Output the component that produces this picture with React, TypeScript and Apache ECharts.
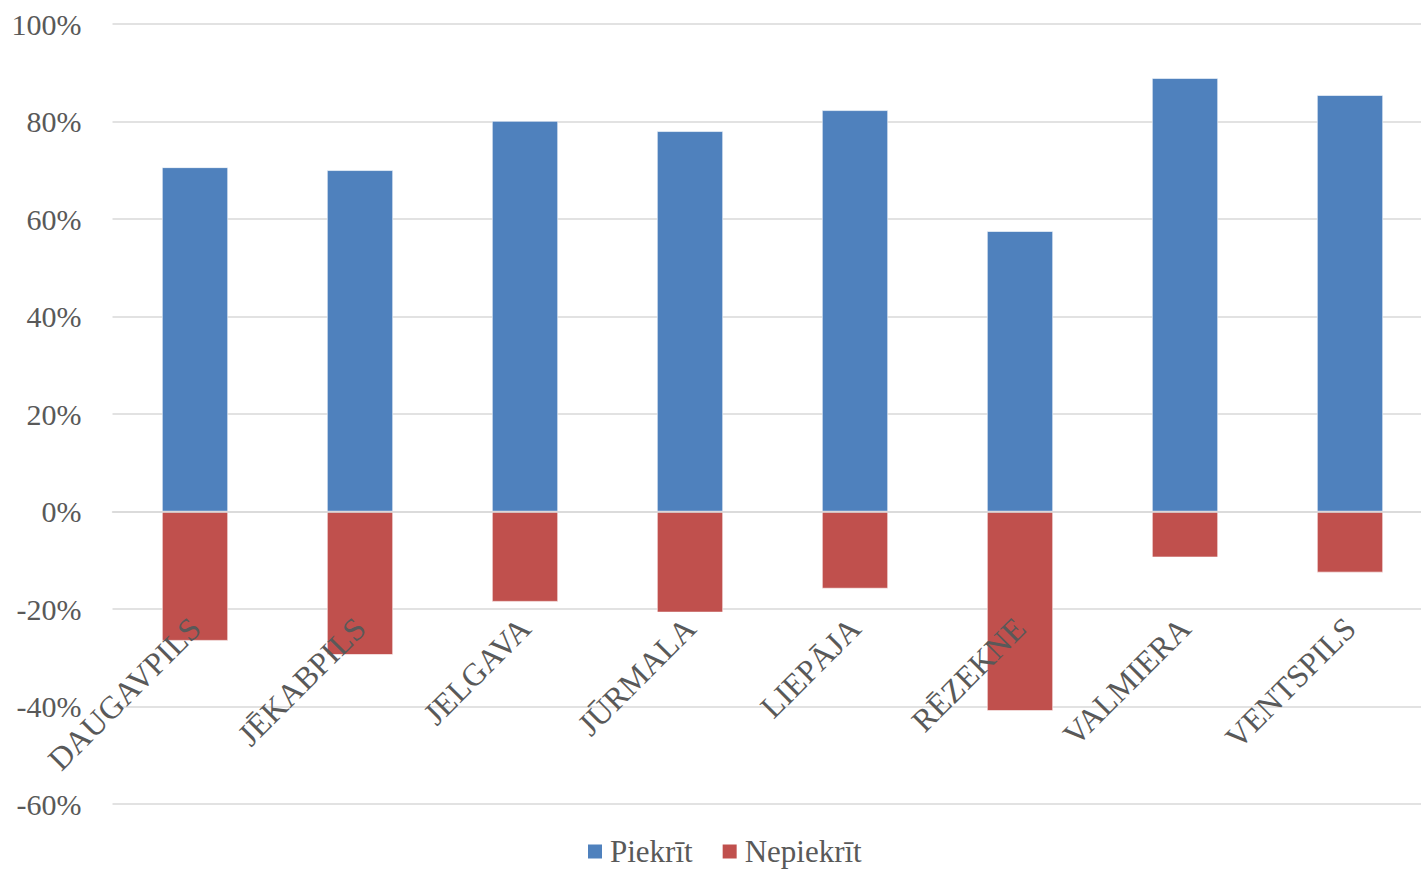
import React, { useEffect, useRef } from "react";
import * as echarts from "echarts";

const categories = ["DAUGAVPILS", "JĒKABPILS", "JELGAVA", "JŪRMALA", "LIEPĀJA", "RĒZEKNE", "VALMIERA", "VENTSPILS"];
const piekrit = [70.6, 70.0, 80.1, 78.0, 82.3, 57.5, 88.9, 85.4];
const nepiekrit = [-26.5, -29.4, -18.5, -20.7, -15.8, -40.9, -9.4, -12.5];
const seriesNames = ["Piekrīt", "Nepiekrīt"];

const FONT = "'Liberation Serif', 'Times New Roman', serif";
const TEXT = "#595959";

export default function App() {
  const ref = useRef<HTMLDivElement>(null);
  useEffect(() => {
    if (!ref.current) return;
    const chart = echarts.init(ref.current, undefined, { renderer: "svg" });
    chart.setOption({
      animation: false,
      textStyle: { fontFamily: FONT },
      grid: { left: 112.5, width: 1320, top: 24, height: 780, containLabel: false, outerBoundsMode: "none" },
      legend: {
        data: seriesNames,
        top: 836,
        left: 586,
        padding: 0,
        icon: "rect",
        itemWidth: 16,
        itemHeight: 16,
        itemGap: 28,
        textStyle: { fontFamily: FONT, fontSize: 31, color: TEXT, padding: [0, 0, 0, 2] },
      },
      xAxis: {
        type: "category",
        data: categories,
        z: 10,
        axisLine: { onZero: true, lineStyle: { color: "#d9d9d9", width: 1.5 } },
        axisTick: { show: false },
        axisLabel: {
          rotate: 45,
          margin: -181,
          interval: 0,
          fontFamily: FONT,
          fontSize: 32,
          color: TEXT,
        },
      },
      yAxis: {
        type: "value",
        min: -60,
        max: 100,
        interval: 20,
        axisLine: { show: false },
        axisTick: { show: false },
        splitLine: { lineStyle: { color: "#d9d9d9", width: 1.5 } },
        axisLabel: {
          formatter: "{value}%",
          margin: 31,
          fontFamily: FONT,
          fontSize: 30,
          color: TEXT,
        },
      },
      series: [
        {
          name: seriesNames[0],
          type: "bar",
          stack: "total",
          data: piekrit,
          barWidth: "40%",
          itemStyle: { color: "#4f81bd", borderColor: "#ffffff", borderWidth: 0.6 },
        },
        {
          name: seriesNames[1],
          type: "bar",
          stack: "total",
          data: nepiekrit,
          barWidth: "40%",
          itemStyle: { color: "#c0504d", borderColor: "#ffffff", borderWidth: 0.6 },
        },
      ],
    });
    return () => chart.dispose();
  }, []);
  return (
    <div style={{ position: "absolute", left: 0, top: 0, width: 1421, height: 872, overflow: "hidden", background: "#fff" }}>
      <div ref={ref} style={{ width: 1440, height: 872 }} />
    </div>
  );
}
